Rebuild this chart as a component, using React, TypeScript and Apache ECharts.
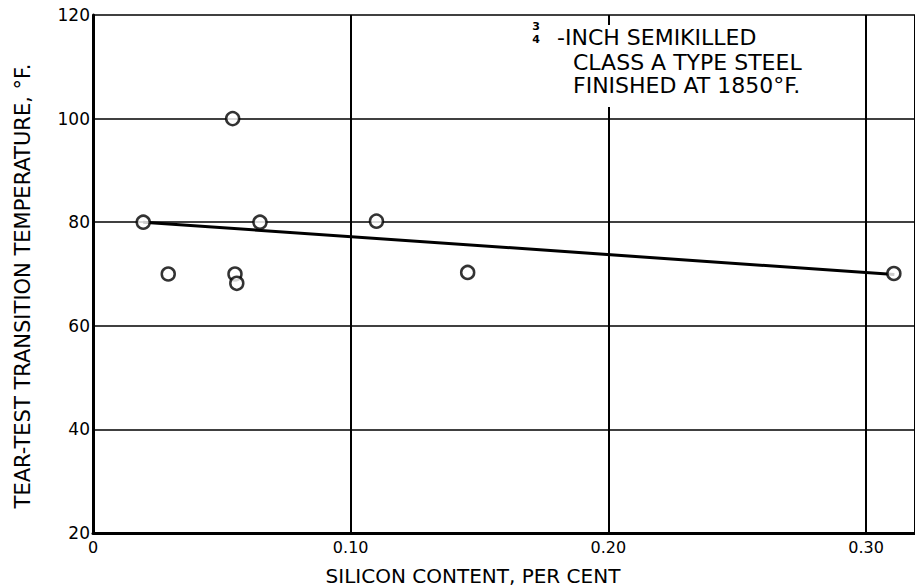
import React, { useEffect, useRef } from "react";
import * as echarts from "echarts";

const siliconPct = [0.0195, 0.0292, 0.0542, 0.0551, 0.0558, 0.0648, 0.110, 0.1454, 0.3108];
const transitionTemp = [80, 70, 100, 70, 68.2, 80, 80.2, 70.3, 70.1];
const trendX = [0.0195, 0.311];
const trendY = [80, 69.9];
const yTicks = [20, 40, 60, 80, 100, 120];
const xTickLabels: Record<string, string> = { "0": "0", "0.1": "0.10", "0.2": "0.20", "0.3": "0.30" };
const noteLines = ["-INCH SEMIKILLED", "CLASS A TYPE STEEL", "FINISHED AT 1850°F."];

const FONT = "'DejaVu Sans', 'Liberation Sans', sans-serif";

export default function App() {
  const ref = useRef<HTMLDivElement>(null);
  useEffect(() => {
    if (!ref.current) return;
    const chart = echarts.init(ref.current, undefined, { renderer: "svg" });
    const noteX = [557, 573, 573];
    const noteY = [37, 62, 85];
    chart.setOption({
      animation: false,
      backgroundColor: "#ffffff",
      grid: { left: 93, right: 0, top: 15, bottom: 55, containLabel: false },
      xAxis: {
        type: "value",
        min: 0,
        max: 0.319,
        interval: 0.1,
        axisLine: { show: true, onZero: false, lineStyle: { color: "#000", width: 3 } },
        axisTick: { show: false },
        splitLine: { show: true, lineStyle: { color: "#000", width: 2 } },
        axisLabel: {
          showMaxLabel: false,
          margin: 6,
          color: "#000",
          fontFamily: FONT,
          fontSize: 16,
          formatter: (v: number) => xTickLabels[String(Math.round(v * 10) / 10)] ?? "",
        },
      },
      yAxis: {
        type: "value",
        min: yTicks[0],
        max: yTicks[yTicks.length - 1],
        interval: 20,
        axisLine: { show: true, onZero: false, lineStyle: { color: "#000", width: 3 } },
        axisTick: { show: false },
        splitLine: { show: true, lineStyle: { color: "#000", width: 1.5 } },
        axisLabel: { margin: 3, color: "#000", fontFamily: FONT, fontSize: 17 },
      },
      series: [
        {
          type: "line",
          data: trendX.map((x, i) => [x, trendY[i]]),
          showSymbol: false,
          symbol: "none",
          lineStyle: { color: "#000", width: 3 },
          z: 2,
        },
        {
          type: "scatter",
          data: siliconPct.map((x, i) => [x, transitionTemp[i]]),
          symbol: "circle",
          symbolSize: 13,
          itemStyle: { color: "#fff", borderColor: "#000", borderWidth: 2.5 },
          z: 3,
        },
      ],
      graphic: [
        {
          type: "rect",
          shape: { x: 528, y: 25, width: 288, height: 82 },
          style: { fill: "#fff", stroke: "none" },
          zlevel: 1,
          z: 50,
        },
        {
          type: "text",
          x: 23,
          y: 286,
          rotation: Math.PI / 2,
          style: {
            text: "TEAR-TEST TRANSITION TEMPERATURE, °F.",
            font: `21px ${FONT}`,
            fill: "#000",
            textAlign: "center",
            textVerticalAlign: "middle",
          },
          zlevel: 1,
          z: 60,
        },
        {
          type: "text",
          x: 473,
          y: 576,
          style: {
            text: "SILICON CONTENT, PER CENT",
            font: `20px ${FONT}`,
            fill: "#000",
            textAlign: "center",
            textVerticalAlign: "middle",
          },
          zlevel: 1,
          z: 60,
        },
        {
          type: "text",
          x: 536,
          y: 26,
          style: { text: "3", font: `bold 11px ${FONT}`, fill: "#000", textAlign: "center", textVerticalAlign: "middle" },
          zlevel: 1,
          z: 60,
        },
        {
          type: "text",
          x: 536,
          y: 39,
          style: { text: "4", font: `bold 11px ${FONT}`, fill: "#000", textAlign: "center", textVerticalAlign: "middle" },
          zlevel: 1,
          z: 60,
        },
        ...noteLines.map((t, i) => ({
          type: "text",
          x: noteX[i],
          y: noteY[i],
          style: { text: t, font: `22px ${FONT}`, fill: "#000", textAlign: "left", textVerticalAlign: "middle" },
          zlevel: 1,
          z: 60,
        })),
      ],
    });
    return () => chart.dispose();
  }, []);
  return (
    <div
      ref={ref}
      style={{ position: "fixed", left: 0, top: 0, width: 915, height: 588, background: "#fff" }}
    />
  );
}
